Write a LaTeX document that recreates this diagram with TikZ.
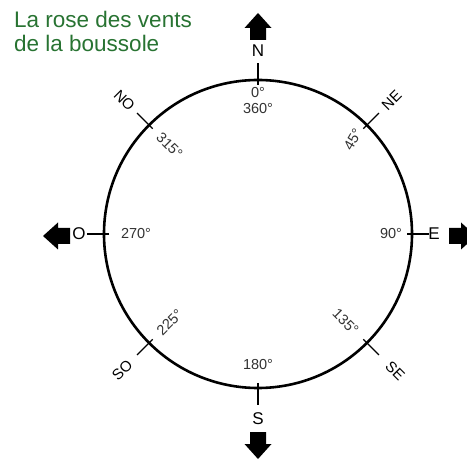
\documentclass[tikz,border=0pt]{standalone}
\usepackage{fontspec}
\setmainfont{Liberation Sans}
\usetikzlibrary{calc}
\definecolor{titlegreen}{RGB}{40,115,50}
\definecolor{degtext}{RGB}{50,50,50}
\tikzset{
  rim/.style={line width=2.6pt},
  tickline/.style={line width=1.3pt},
  card/.style={font=\fontsize{17}{17}\selectfont, inner sep=0pt},
  inter/.style={font=\fontsize{15}{15}\selectfont, inner sep=0pt},
  deg/.style={font=\fontsize{14.5}{14.5}\selectfont, inner sep=0pt, text=degtext},
  titletext/.style={font=\fontsize{22.5}{22.5}\selectfont, text=titlegreen, inner sep=0pt, anchor=base west},
  blockarrow/.pic={\fill[black] (0,-8) -- (12,-8) -- (12,-13.5) -- (27,0) -- (12,13.5) -- (12,8) -- (0,8) -- cycle;}
}
\begin{document}
\begin{tikzpicture}[x=1pt,y=1pt]
\useasboundingbox (0,0) rectangle (467,459);
\node[titletext] (t1) at (14,431) {La rose des vents};
\node[titletext] (t2) at (14,407) {de la boussole};
\coordinate (C) at (258,225);
\draw[rim] (C) circle (154);
\foreach \a in {0,45,...,315}{
  \coordinate (ti\a) at ($(C)+(\a:149)$);
  \coordinate (to\a) at ($(C)+(\a:171)$);
  \draw[tickline] (ti\a) -- (to\a);
}
% cardinal letters
\node[card] (N) at ($(C)+(90:183)$) {N};
\node[card] (E) at ($(C)+(0:176)$) {E};
\node[card] (S) at ($(C)+(270:185)$) {S};
\node[card] (O) at ($(C)+(180:179)$) {O};
% intercardinal letters
\node[inter, rotate=45] (NE) at ($(C)+(45:189)$) {NE};
\node[inter, rotate=-45] (NO) at ($(C)+(135:189)$) {NO};
\node[inter, rotate=45] (SO) at ($(C)+(225:192)$) {SO};
\node[inter, rotate=-45] (SE) at ($(C)+(315:194)$) {SE};
% degrees
\node[deg] (d0) at ($(C)+(90:141)$) {0°};
\node[deg] (d360) at ($(C)+(90:125)$) {360°};
\node[deg] (d90) at ($(C)+(0:133)$) {90°};
\node[deg] (d180) at ($(C)+(270:131)$) {180°};
\node[deg] (d270) at ($(C)+(180:122)$) {270°};
\node[deg, rotate=60] (d45) at ($(C)+(45:134)$) {45°};
\node[deg, rotate=-45] (d315) at ($(C)+(135:125)$) {315°};
\node[deg, rotate=45] (d225) at ($(C)+(225:125)$) {225°};
\node[deg, rotate=-45] (d135) at ($(C)+(315:124)$) {135°};
% block arrows
\pic[rotate=90] at (258,419) {blockarrow};
\pic[rotate=180] at (70,223) {blockarrow};
\pic at (449,223) {blockarrow};
\pic[rotate=-90] at (258,27) {blockarrow};
\end{tikzpicture}
\end{document}
